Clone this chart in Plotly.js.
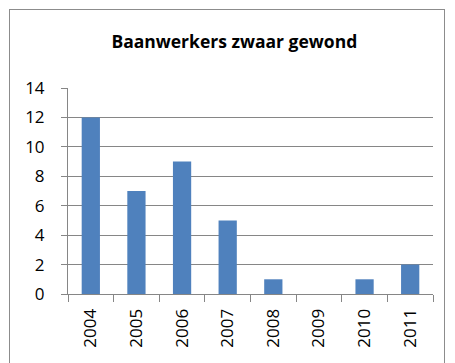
<!DOCTYPE html>
<html><head><meta charset="utf-8">
<script src="https://cdn.plot.ly/plotly-3.0.1.min.js"></script>
<style>html,body{margin:0;padding:0;background:#fff;}#frame{position:absolute;left:9px;top:9px;width:436px;height:400px;border:1px solid #8c8c8c;box-sizing:border-box;pointer-events:none;}</style>
</head><body>
<div id="chart" style="width:455px;height:363px;"></div>
<div id="frame"></div>
<script>
const years = ['2004','2005','2006','2007','2008','2009','2010','2011'];
const injured = [12, 7, 9, 5, 1, 0, 1, 2];
const yTicks = [0, 2, 4, 6, 8, 10, 12, 14];
const chartTitle = 'Baanwerkers zwaar gewond';

Plotly.newPlot('chart', [{
  type: 'bar', x: years, y: injured,
  marker: {color: '#4F81BD'}, width: 0.4, hoverinfo: 'x+y'
}], {
  width: 455, height: 363,
  margin: {l: 68, r: 22, t: 88, b: 69},
  paper_bgcolor: 'rgba(0,0,0,0)', plot_bgcolor: '#fff',
  font: {family: 'Open Sans, Liberation Sans, sans-serif', size: 17, color: '#000'},
  title: {text: '<b>' + chartTitle + '</b>', x: 0.515, xanchor: 'center', y: 0.885, yanchor: 'middle',
          font: {size: 17.5, family: 'Open Sans, Liberation Sans, sans-serif', color: '#000'}},
  showlegend: false, bargap: 0.6,
  xaxis: {type: 'category', tickangle: -90, ticks: 'outside', ticklen: 7, tickcolor: '#868686',
          tickson: 'boundaries', showline: true, linecolor: '#868686', showgrid: false,
          tickfont: {size: 17}, ticklabelstandoff: 7},
  yaxis: {range: [0, 14], tickvals: yTicks, ticks: 'outside', ticklen: 6, tickcolor: '#868686',
          showline: true, linecolor: '#868686', gridcolor: '#868686', gridwidth: 1,
          zeroline: false, tickfont: {size: 17}, ticklabelstandoff: 13}
}, {displayModeBar: false});
</script>
</body></html>
